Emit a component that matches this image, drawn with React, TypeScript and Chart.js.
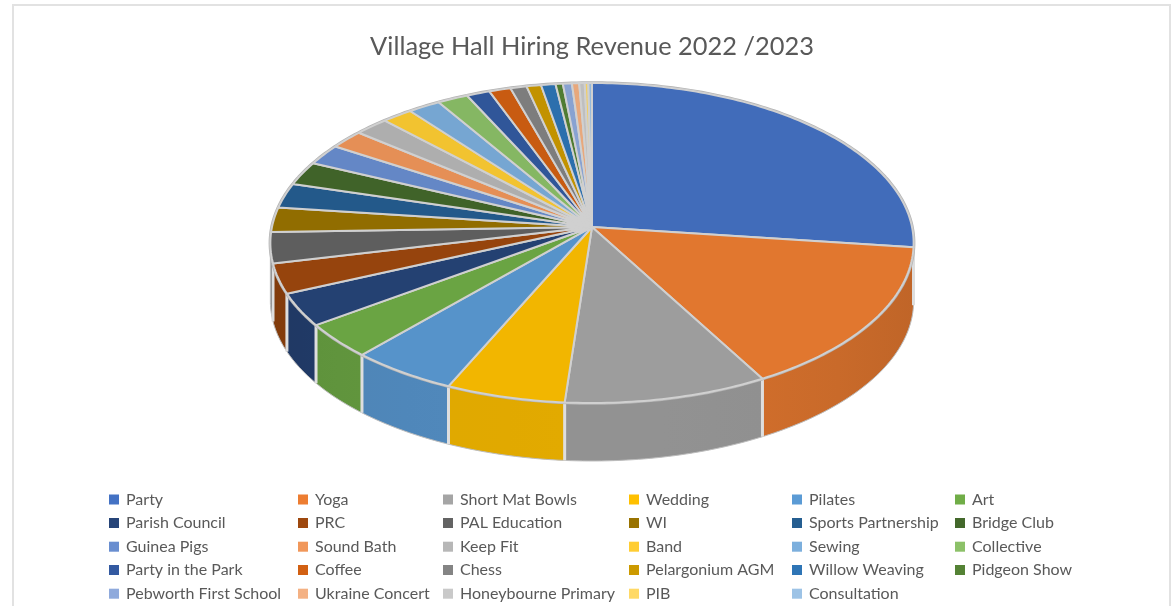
import React, { useEffect, useRef } from "react";
import { Chart, registerables } from "chart.js";

Chart.register(...registerables);

const TITLE = "Village Hall Hiring Revenue 2022 /2023";

const categories = [
  "Party", "Yoga", "Short Mat Bowls", "Wedding", "Pilates", "Art",
  "Parish Council", "PRC", "PAL Education", "WI", "Sports Partnership", "Bridge Club",
  "Guinea Pigs", "Sound Bath", "Keep Fit", "Band", "Sewing", "Collective",
  "Party in the Park", "Coffee", "Chess", "Pelargonium AGM", "Willow Weaving", "Pidgeon Show",
  "Pebworth First School", "Ukraine Concert", "Honeybourne Primary", "PIB", "Consultation",
];

const revenue = [
  27.0, 14.9, 9.3, 5.45, 4.9, 3.5,
  3.3, 3.0, 3.1, 2.5, 2.5, 2.4,
  2.1, 1.9, 1.9, 1.7, 1.8, 1.7,
  1.3, 1.2, 0.9, 0.8, 0.8, 0.4,
  0.5, 0.4, 0.3, 0.2, 0.2,
];

const sliceColors = [
  "#4472C4", "#ED7D31", "#A5A5A5", "#FFC000", "#5B9BD5", "#70AD47",
  "#264478", "#9E480E", "#636363", "#997300", "#255E91", "#43682B",
  "#698ED0", "#F1975A", "#B7B7B7", "#FFCD33", "#7CAFDD", "#8CC168",
  "#335AA1", "#D26012", "#848484", "#CC9A00", "#2E75B6", "#548235",
  "#8FAADC", "#F4B183", "#C9C9C9", "#FFD966", "#9DC3E6",
];

const legendColumns = [109, 298, 443, 629, 792, 955];
const legendRows = [499.5, 523, 546.7, 570, 593.7];

const RX_RATIO = 320 / 150;
const RY_RATIO = 158.4 / 150;
const PERSPECTIVE = 0.1;
const WALL_DEPTH = 58;

const shade = (hex: string, f: number) => {
  const n = parseInt(hex.slice(1), 16);
  const c = [(n >> 16) & 255, (n >> 8) & 255, n & 255].map((v) => Math.round(v * f));
  return `rgb(${c[0]},${c[1]},${c[2]})`;
};

const tiltedPie = {
  id: "tiltedPie",
  beforeDraw(chart: any) {
    const { ctx } = chart;
    ctx.save();
    ctx.fillStyle = "#ffffff";
    ctx.fillRect(0, 0, chart.width, chart.height);
    ctx.strokeStyle = "#E2E2E2";
    ctx.lineWidth = 2;
    ctx.strokeRect(13, 5, 1157, 640);
    ctx.restore();
  },
  beforeDatasetDraw(chart: any, args: any) {
    const { ctx } = chart;
    const arcs = args.meta.data;
    const first = arcs[0];
    const r = first.outerRadius;
    const cx = first.x;
    const cy = first.y;
    const rx = r * RX_RATIO;
    const ry = r * RY_RATIO;
    const pt = (t: number, dy = 0): [number, number] => {
      const w = 1 - PERSPECTIVE * Math.sin(t);
      return [cx + (rx * Math.cos(t)) / w, cy + (ry * Math.sin(t)) / w + dy];
    };
    const steps = (a: number, b: number) => {
      const n = Math.max(1, Math.ceil(Math.abs(b - a) / (Math.PI / 180)));
      return Array.from({ length: n + 1 }, (_, i) => a + ((b - a) * i) / n);
    };
    const wallMin = Math.asin(PERSPECTIVE);
    const wallMax = Math.PI - wallMin;
    const wallShade = (t: number) => 0.8 + 0.085 * Math.sin(t);

    ctx.save();
    ctx.lineJoin = "round";

    // walls
    arcs.forEach((el: any, i: number) => {
      const a = Math.max(el.startAngle, wallMin);
      const b = Math.min(el.endAngle, wallMax);
      if (b <= a) return;
      const ts = steps(a, b);
      ctx.beginPath();
      ts.forEach((t, j) => {
        const p = pt(t);
        if (j === 0) ctx.moveTo(p[0], p[1]);
        else ctx.lineTo(p[0], p[1]);
      });
      ts.slice().reverse().forEach((t) => {
        const p = pt(t, WALL_DEPTH);
        ctx.lineTo(p[0], p[1]);
      });
      ctx.closePath();
      const pa = pt(a);
      const pb = pt(b);
      const g = ctx.createLinearGradient(pa[0], 0, pb[0], 0);
      const col = sliceColors[i];
      g.addColorStop(0, shade(col, wallShade(a)));
      g.addColorStop(0.5, shade(col, wallShade((a + b) / 2)));
      g.addColorStop(1, shade(col, wallShade(b)));
      ctx.fillStyle = g;
      ctx.fill();
    });

    // wall bottom and silhouette
    ctx.strokeStyle = "#BDBDBD";
    ctx.lineWidth = 1;
    ctx.beginPath();
    steps(wallMin, wallMax).forEach((t, j) => {
      const p = pt(t, WALL_DEPTH);
      if (j === 0) ctx.moveTo(p[0], p[1]);
      else ctx.lineTo(p[0], p[1]);
    });
    ctx.stroke();
    [wallMin, wallMax].forEach((t) => {
      const p = pt(t);
      ctx.beginPath();
      ctx.moveTo(p[0], p[1]);
      ctx.lineTo(p[0], p[1] + WALL_DEPTH);
      ctx.stroke();
    });

    // wall separators
    ctx.strokeStyle = "#DEDEDE";
    ctx.lineWidth = 3;
    arcs.forEach((el: any) => {
      const t = el.endAngle;
      if (t <= wallMin || t >= wallMax) return;
      const p = pt(t);
      ctx.beginPath();
      ctx.moveTo(p[0], p[1]);
      ctx.lineTo(p[0], p[1] + WALL_DEPTH);
      ctx.stroke();
    });

    // outer rim under the top face
    ctx.strokeStyle = "#B4B4B4";
    ctx.lineWidth = 3.5;
    ctx.beginPath();
    steps(-Math.PI / 2, (3 * Math.PI) / 2).forEach((t, j) => {
      const p = pt(t);
      if (j === 0) ctx.moveTo(p[0], p[1]);
      else ctx.lineTo(p[0], p[1]);
    });
    ctx.closePath();
    ctx.stroke();

    // top face
    arcs.forEach((el: any, i: number) => {
      ctx.beginPath();
      ctx.moveTo(cx, cy);
      steps(el.startAngle, el.endAngle).forEach((t) => {
        const p = pt(t);
        ctx.lineTo(p[0], p[1]);
      });
      ctx.closePath();
      ctx.fillStyle = shade(sliceColors[i], 0.95);
      ctx.fill();
      ctx.strokeStyle = "#D0D0D0";
      ctx.lineWidth = 2;
      ctx.stroke();
    });

    ctx.restore();
    return false;
  },
  afterDraw(chart: any) {
    const { ctx } = chart;
    ctx.save();
    ctx.font = "16px Lato";
    ctx.textBaseline = "middle";
    ctx.textAlign = "left";
    categories.forEach((label, i) => {
      const x = legendColumns[i % 6];
      const y = legendRows[Math.floor(i / 6)];
      ctx.fillStyle = sliceColors[i];
      ctx.fillRect(x, y - 5, 10, 10);
      ctx.fillStyle = "#595959";
      ctx.fillText(label, x + 17, y);
    });
    ctx.restore();
  },
};

export default function App() {
  const ref = useRef<HTMLCanvasElement | null>(null);
  useEffect(() => {
    const chart = new Chart(ref.current as HTMLCanvasElement, {
      type: "pie",
      data: {
        labels: categories,
        datasets: [{ data: revenue, backgroundColor: sliceColors, borderWidth: 0 }],
      },
      options: {
        responsive: false,
        animation: false,
        layout: { padding: { left: 8, right: 0, top: 10, bottom: 229 } },
        plugins: {
          legend: { display: false },
          tooltip: { enabled: false },
          title: {
            display: true,
            text: TITLE,
            color: "#595959",
            font: { family: "Lato", size: 25.4, weight: "normal" },
            padding: { top: 21.8, bottom: 14.7 },
          },
        },
      },
      plugins: [tiltedPie],
    } as any);
    return () => chart.destroy();
  }, []);
  return (
    <div style={{ position: "fixed", left: 0, top: 0, width: 1176, height: 606 }}>
      <canvas ref={ref} width={1176} height={606} style={{ display: "block" }} />
    </div>
  );
}
